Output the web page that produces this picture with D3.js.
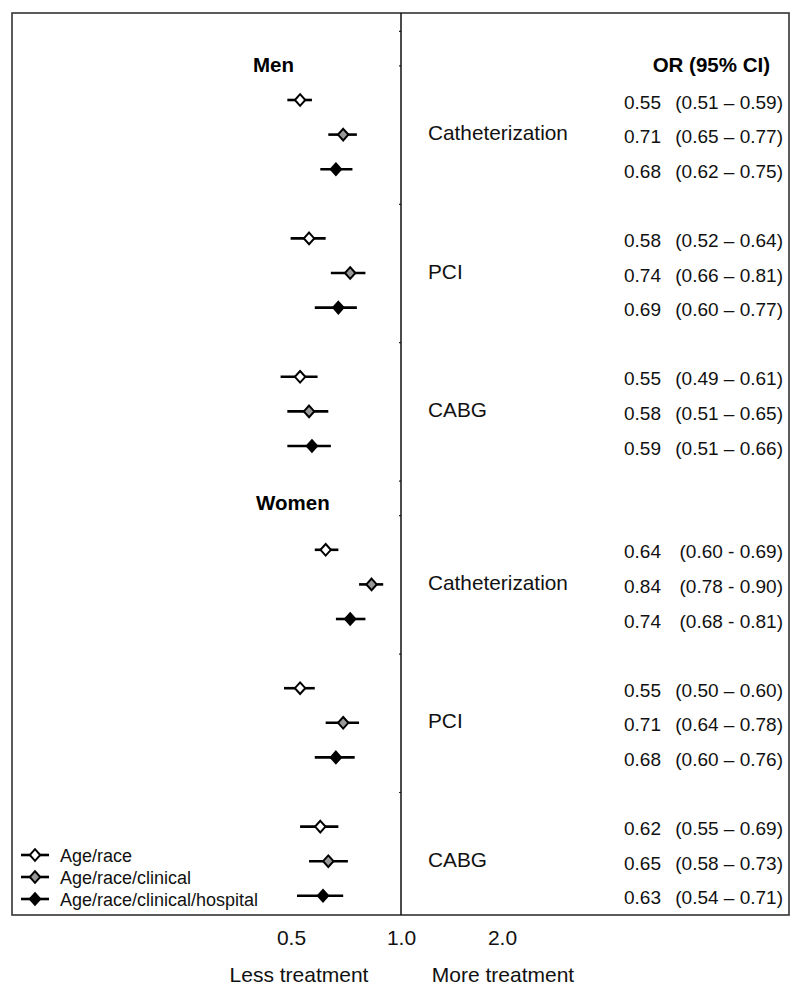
<!DOCTYPE html>
<html>
<head>
<meta charset="utf-8">
<script src="https://cdn.jsdelivr.net/npm/d3@7"></script>
<style>
  html, body { margin: 0; padding: 0; background: #fff; }
  svg { display: block; font-family: "Liberation Sans", Arial, sans-serif; }
</style>
</head>
<body>
<svg id="chart" width="800" height="986"></svg>
<script>
// ---------------- data ----------------
const groups = ["Men", "Women"];
const procedures = ["Catheterization", "PCI", "CABG"];
const models = ["Age/race", "Age/race/clinical", "Age/race/clinical/hospital"];

// rows in order: group -> procedure -> model
const orValues = [
  0.55, 0.71, 0.68,
  0.58, 0.74, 0.69,
  0.55, 0.58, 0.59,
  0.64, 0.84, 0.74,
  0.55, 0.71, 0.68,
  0.62, 0.65, 0.63
];
const ciLow = [
  0.51, 0.65, 0.62,
  0.52, 0.66, 0.60,
  0.49, 0.51, 0.51,
  0.60, 0.78, 0.68,
  0.50, 0.64, 0.60,
  0.55, 0.58, 0.54
];
const ciHigh = [
  0.59, 0.77, 0.75,
  0.64, 0.81, 0.77,
  0.61, 0.65, 0.66,
  0.69, 0.90, 0.81,
  0.60, 0.78, 0.76,
  0.69, 0.73, 0.71
];
const orLabels = [
  "0.55", "0.71", "0.68",
  "0.58", "0.74", "0.69",
  "0.55", "0.58", "0.59",
  "0.64", "0.84", "0.74",
  "0.55", "0.71", "0.68",
  "0.62", "0.65", "0.63"
];
const ciLabels = [
  "(0.51 \u2013 0.59)", "(0.65 \u2013 0.77)", "(0.62 \u2013 0.75)",
  "(0.52 \u2013 0.64)", "(0.66 \u2013 0.81)", "(0.60 \u2013 0.77)",
  "(0.49 \u2013 0.61)", "(0.51 \u2013 0.65)", "(0.51 \u2013 0.66)",
  "(0.60 - 0.69)", "(0.78 - 0.90)", "(0.68 - 0.81)",
  "(0.50 \u2013 0.60)", "(0.64 \u2013 0.78)", "(0.60 \u2013 0.76)",
  "(0.55 \u2013 0.69)", "(0.58 \u2013 0.73)", "(0.54 \u2013 0.71)"
];
const xTickValues = [0.5, 1.0, 2.0];
const xTickLabels = ["0.5", "1.0", "2.0"];
const columnHeader = "OR (95% CI)";
const directionLabels = ["Less treatment", "More treatment"];
const modelFills = ["#ffffff", "#999999", "#000000"];

// ---------------- layout ----------------
const svg = d3.select("#chart");
const box = { left: 12, top: 13, right: 789, bottom: 915 };

const x = d3.scaleLog().domain([0.5, 2]).range([284, 518]);
// vertical slots (26 slots: 0..25)
const y = d3.scaleLinear().domain([0, 25]).range([30.8, 895.8]);

const rows = orValues.map((v, i) => {
  const g = Math.floor(i / 9), p = Math.floor((i % 9) / 3), m = i % 3;
  return { or: v, lo: ciLow[i], hi: ciHigh[i], g, p, m,
           slot: 2 + g * 13 + p * 4 + m,
           orLabel: orLabels[i], ciLabel: ciLabels[i] };
});

// frame
svg.append("rect")
  .attr("x", box.left).attr("y", box.top)
  .attr("width", box.right - box.left).attr("height", box.bottom - box.top)
  .attr("fill", "none").attr("stroke", "#333").attr("stroke-width", 1.6);

// reference line at 1.0 with small y ticks (group separators)
const yAxis = d3.axisLeft(y).tickValues([0, 1, 5, 9, 13, 14, 18, 22]).tickSize(2).tickFormat("");
const yg = svg.append("g").attr("transform", `translate(${x(1)},0)`).call(yAxis);
yg.select(".domain").remove();
yg.selectAll(".tick line").attr("stroke", "#222").attr("stroke-width", 1.2);
svg.append("line")
  .attr("x1", x(1)).attr("x2", x(1))
  .attr("y1", box.top).attr("y2", box.bottom)
  .attr("stroke", "#111").attr("stroke-width", 1.5);

// x axis labels
const xAxis = d3.axisBottom(x).tickValues(xTickValues).tickSize(0)
  .tickFormat((d, i) => xTickLabels[i]);
const xg = svg.append("g").attr("transform", `translate(0,${box.bottom})`).call(xAxis);
xg.select(".domain").remove();
xg.selectAll(".tick text")
  .attr("font-size", 21).attr("fill", "#111")
  .attr("font-family", "'Liberation Sans', Arial, sans-serif")
  .attr("dy", null).attr("y", 30)
  .attr("dx", d => d < 1 ? 7 : d > 1 ? -16 : 0);

svg.append("text").attr("x", 299).attr("y", 982).attr("text-anchor", "middle")
  .attr("font-size", 21).attr("fill", "#111").text(directionLabels[0]);
svg.append("text").attr("x", 503).attr("y", 982).attr("text-anchor", "middle")
  .attr("font-size", 21).attr("fill", "#111").text(directionLabels[1]);

// group labels
svg.append("text").attr("x", 253).attr("y", y(1) + 7).attr("font-size", 20.5)
  .attr("font-weight", "bold").attr("fill", "#000").text(groups[0]);
svg.append("text").attr("x", 256).attr("y", y(13.5) + 12).attr("font-size", 20.5)
  .attr("font-weight", "bold").attr("fill", "#000").text(groups[1]);
svg.append("text").attr("x", 770).attr("y", y(1) + 7).attr("text-anchor", "end")
  .attr("font-size", 20.5).attr("font-weight", "bold").attr("fill", "#000").text(columnHeader);

// procedure labels
const procRows = [];
groups.forEach((g, gi) => procedures.forEach((p, pi) => procRows.push({ label: p, slot: 3 + gi * 13 + pi * 4 })));
svg.selectAll("text.proc").data(procRows).join("text").attr("class", "proc")
  .attr("x", 428).attr("y", d => y(d.slot) + 5.5)
  .attr("font-size", 20.8).attr("fill", "#111").text(d => d.label);

// OR / CI text
svg.selectAll("text.or").data(rows).join("text").attr("class", "or")
  .attr("x", 624).attr("y", d => y(d.slot) + 8.5)
  .attr("font-size", 19).attr("fill", "#111").text(d => d.orLabel);
svg.selectAll("text.ci").data(rows).join("text").attr("class", "ci")
  .attr("x", 783).attr("y", d => y(d.slot) + 8.5).attr("text-anchor", "end")
  .attr("font-size", 19).attr("fill", "#111").text(d => d.ciLabel);

// diamond helper
const diamond = (cx, cy) => `M${cx},${cy - 5.8}L${cx + 5.2},${cy}L${cx},${cy + 5.8}L${cx - 5.2},${cy}Z`;

// CI lines and markers
svg.selectAll("line.ci").data(rows).join("line").attr("class", "ci")
  .attr("x1", d => x(d.lo)).attr("x2", d => x(d.hi))
  .attr("y1", d => y(d.slot)).attr("y2", d => y(d.slot))
  .attr("stroke", "#000").attr("stroke-width", 2.6);
svg.selectAll("path.pt").data(rows).join("path").attr("class", "pt")
  .attr("d", d => diamond(x(d.or), y(d.slot)))
  .attr("fill", d => modelFills[d.m]).attr("stroke", "#000").attr("stroke-width", 2);

// legend
const legendY = d3.scaleLinear().domain([0, 2]).range([855, 899]);
const lg = svg.append("g");
models.forEach((m, i) => {
  const cy = legendY(i);
  lg.append("line").attr("x1", 21).attr("x2", 49).attr("y1", cy).attr("y2", cy)
    .attr("stroke", "#000").attr("stroke-width", 2.6);
  lg.append("path").attr("d", diamond(35, cy)).attr("fill", modelFills[i])
    .attr("stroke", "#000").attr("stroke-width", 2);
  lg.append("text").attr("x", 60).attr("y", cy + 6.5).attr("font-size", 18)
    .attr("fill", "#111").text(m);
});
</script>
</body>
</html>
